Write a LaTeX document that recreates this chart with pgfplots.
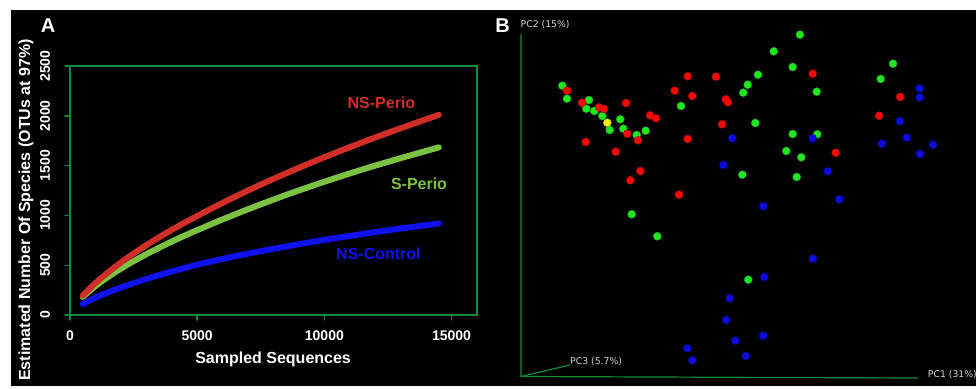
\documentclass[border=0pt]{standalone}
\usepackage{pgfplots}
\pgfplotsset{compat=1.18}
\usepackage{fontspec}
\setmainfont{Liberation Sans}
\newfontfamily\dejavu{DejaVu Sans}
\definecolor{frameg}{RGB}{16,140,56}
\definecolor{cred}{RGB}{208,46,40}
\definecolor{cgreen}{RGB}{124,194,66}
\definecolor{cblue}{RGB}{16,16,240}
\definecolor{pred}{RGB}{250,8,8}
\definecolor{pgreen}{RGB}{32,232,32}
\definecolor{pblue}{RGB}{12,12,220}
\definecolor{pyellow}{RGB}{240,240,20}
\definecolor{lbl}{RGB}{215,215,215}
\begin{document}
\begin{tikzpicture}
\path[use as bounding box] (0,0) rectangle (976pt,388pt);
\fill[white] (0,0) rectangle (976pt,388pt);
\fill[black] (11pt,2pt) rectangle (976pt,378pt);
\node[text=white, font=\fontsize{20}{20}\selectfont\bfseries] at (48pt,362pt) {A};
\node[text=white, font=\fontsize{20}{20}\selectfont\bfseries] at (502.5pt,362.5pt) {B};
% Panel A
\begin{axis}[
  at={(70pt,73pt)}, anchor=south west, scale only axis,
  width=407pt, height=249pt,
  xmin=0, xmax=16000, ymin=0, ymax=2500,
  axis line style={draw=frameg, line width=1.4pt},
  tick style={draw=frameg, line width=1.4pt},
  tick align=outside, major tick length=5pt,
  xtick pos=lower, ytick pos=left,
  xtick={0,5000,10000,15000}, ytick={0,500,1000,1500,2000,2500},
  scaled ticks=false,
  /pgf/number format/assume math mode=true,
  /pgf/number format/1000 sep={},
  ticklabel style={font=\fontsize{14}{14}\selectfont\bfseries, text=white},
  xticklabel style={anchor=center},
  xticklabel shift=16pt,
  yticklabel style={rotate=90, anchor=center},
  yticklabel shift=20pt,
  xlabel={Sampled Sequences},
  ylabel={Estimated Number Of Species (OTUs at 97\%)},
  label style={font=\fontsize{16}{16}\selectfont\bfseries, text=white},
  xlabel style={at={(axis description cs:0.499,-0.177)}, anchor=center},
  ylabel style={at={(axis description cs:-0.108,0.4217)}, anchor=center, rotate=0},
  clip=false,
  line cap=round,
]
\addplot[cblue, line width=6pt, smooth] coordinates {
(500,110) (1000,174) (1500,228) (2000,276) (2500,320) (3000,361) (3500,400) (4000,437)
(4500,472) (5000,505) (6000,563) (7000,616) (8000,665) (9000,711) (10000,754) (11000,794)
(12000,832) (13000,868) (14000,902) (14500,919)};
\addplot[cgreen, line width=6pt, smooth] coordinates {
(500,182) (1000,291) (1500,383) (2000,465) (2500,540) (3000,610) (3500,675) (4000,737)
(4500,796) (5000,852) (6000,960) (7000,1062) (8000,1159) (9000,1251) (10000,1338) (11000,1421)
(12000,1500) (13000,1575) (14000,1647) (14500,1683)};
\addplot[cred, line width=6pt, smooth] coordinates {
(500,195) (1000,320) (1500,428) (2000,527) (2500,617) (3000,701) (3500,780) (4000,855)
(4500,926) (5000,994) (6000,1126) (7000,1250) (8000,1367) (9000,1478) (10000,1584) (11000,1685)
(12000,1782) (13000,1875) (14000,1965) (14500,2010)};
\node[text=cred, font=\fontsize{16}{16}\selectfont\bfseries] at (axis cs:12244,2130) {NS-Perio};
\node[text=cgreen, font=\fontsize{16}{16}\selectfont\bfseries] at (axis cs:13720,1320) {S-Perio};
\node[text=cblue, font=\fontsize{16}{16}\selectfont\bfseries] at (axis cs:12126,610) {NS-Control};
\end{axis}
% Panel B
\begin{axis}[
  at={(490pt,0pt)}, anchor=south west, scale only axis,
  width=486pt, height=388pt,
  xmin=490, xmax=976, ymin=0, ymax=388, y dir=reverse,
  axis lines=none, clip=false,
]
\addplot[frameg, line width=1.2pt] coordinates {(521,34) (521,376.5) (918,378)};
\addplot[frameg, line width=1.2pt] coordinates {(521,376.5) (570,365)};
\node[anchor=west, inner sep=0pt, text=lbl, font=\dejavu\fontsize{9.3}{9.3}\selectfont] at (axis cs:520.5,25) {PC2 (15\%)};
\node[anchor=west, inner sep=0pt, text=lbl, font=\dejavu\fontsize{9.3}{9.3}\selectfont] at (axis cs:570,361.7) {PC3 (5.7\%)};
\node[anchor=west, inner sep=0pt, text=lbl, font=\dejavu\fontsize{9.3}{9.3}\selectfont] at (axis cs:927.7,374.3) {PC1 (31\%)};
\addplot[only marks, mark=*, mark size=4pt, mark options={fill=pgreen, draw=pgreen!75!black, line width=0.4pt}] coordinates {
(562.3,85.7) (567.0,98.7) (589.0,100.0) (586.3,108.7) (594.3,111.0) (602.3,116.0)
(609.7,130.0) (620.3,119.3) (623.3,128.7) (636.7,135.0) (645.7,130.7) (681.0,106.0)
(743.3,92.7) (747.7,84.7) (758.0,74.7) (773.7,51.3) (800.0,34.7) (792.7,67.0)
(816.7,91.7) (755.3,123.0) (792.7,134.0) (817.3,134.3) (786.3,151.0) (801.3,157.3)
(742.3,174.7) (796.7,177.0) (893.0,63.7) (880.7,79.0) (631.7,214.3) (657.3,236.3)
(748.3,279.7)};
\addplot[only marks, mark=*, mark size=4pt, mark options={fill=pred, draw=pred!75!black, line width=0.4pt}] coordinates {
(567.0,90.7) (582.0,102.7) (599.0,107.3) (604.0,109.0) (626.0,103.0) (650.0,115.3)
(656.0,118.3) (585.7,142.0) (615.7,151.7) (627.3,133.7) (638.0,140.3) (640.3,171.0)
(630.3,180.3) (679.0,194.7) (674.7,90.7) (687.7,76.3) (692.3,96.0) (716.0,76.7)
(725.7,99.3) (728.0,102.3) (722.0,124.3) (687.7,139.0) (812.7,73.7) (900.3,97.0)
(879.0,115.7) (835.7,152.7)};
\addplot[only marks, mark=*, mark size=4pt, mark options={fill=pyellow, draw=pyellow!75!black, line width=0.4pt}] coordinates {
(607.3,122.7)};
\addplot[only marks, mark=*, mark size=4pt, mark options={fill=pblue, draw=pblue!75!black, line width=0.4pt}] coordinates {
(732.3,138.3) (723.3,165.0) (812.7,138.3) (827.7,171.3) (839.3,199.3) (919.7,88.3)
(919.7,97.3) (900.0,121.3) (906.7,137.7) (882.0,143.7) (933.0,144.7) (920.0,154.0)
(763.3,206.3) (813.0,258.7) (764.3,277.0) (729.7,298.3) (726.3,320.0) (763.3,335.7)
(735.3,340.7) (687.3,348.3) (692.3,360.3) (745.7,356.0)};
\end{axis}
\end{tikzpicture}
\end{document}
